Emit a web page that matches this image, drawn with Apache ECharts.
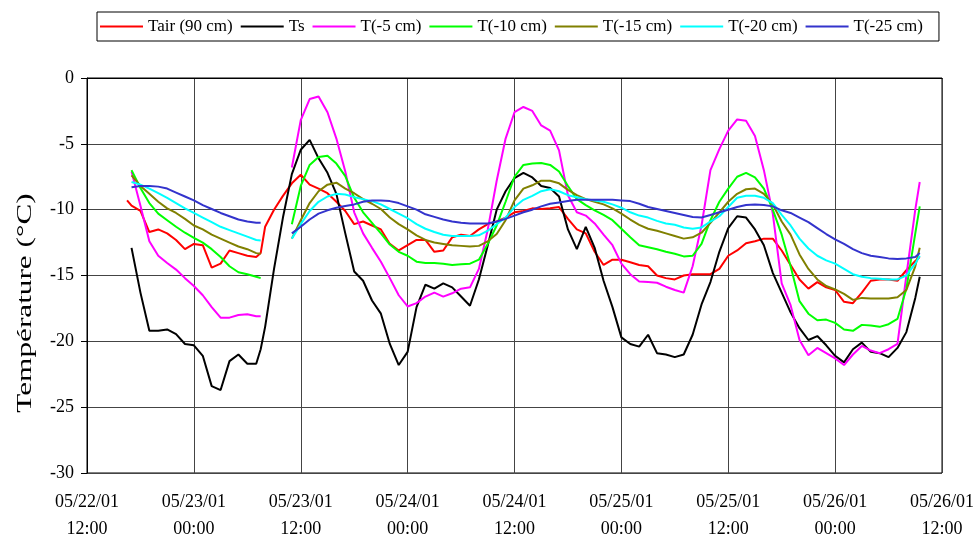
<!DOCTYPE html>
<html>
<head>
<meta charset="utf-8">
<script src="https://cdn.jsdelivr.net/npm/echarts@6/dist/echarts.min.js"></script>
<style>
html,body{margin:0;padding:0;background:#fff;overflow:hidden;width:100%;height:100%;}
#chart{position:absolute;left:0;top:0;width:973px;height:535px;}
</style>
</head>
<body>
<div id="chart"></div>
<script>
// hours since 05/22/01 12:00
var times = [4.5,5,6,7,8,9,10,11,12,13,14,15,16,17,18,19,19.5,
  20,21,22,23,24,25,26,27,28,29,30,31,32,33,34,35,36,37,38,39,40,41,42,43,44,45,46,47,
  48,49,50,51,52,53,54,55,56,57,58,59,60,61,62,63,64,65,66,67,68,69,70,71,
  72,73,74,75,76,77,78,79,80,81,82,83,84,85,86,87,88,89,90,91,92,93,93.5];

var tair = [-9.3,
  -9.7,-10.1,-11.7,-11.5,-11.8,-12.3,-13.0,-12.6,-12.7,-14.4,-14.1,-13.1,-13.3,-13.5,-13.6,
  -13.3,
  -11.3,-10.0,-8.95,-8.0,
  -7.35,-8.1,-8.4,-8.75,-9.4,-10.1,-11.1,-10.9,-11.2,-11.5,-12.6,-13.1,
  -12.7,-12.3,-12.3,-13.2,-13.1,-12.1,-11.9,-12.0,-11.5,-11.1,-10.9,-10.6,
  -10.2,-10.1,-9.9,-9.95,-9.9,-9.8,-10.7,-11.5,-11.8,-13.2,-14.2,-13.8,
  -13.8,-14.0,-14.2,-14.3,-15.0,-15.2,-15.3,-15.0,-14.9,-14.9,-14.9,-14.5,
  -13.5,-13.1,-12.55,-12.4,-12.2,-12.2,-13.1,-14.2,-15.3,-16.0,-15.5,-15.9,
  -16.1,-17.0,-17.1,-16.3,-15.4,-15.3,-15.3,-15.4,-14.6,-13.9,
  -13.6];

var ts = [null,
  -12.9,-16.3,-19.2,-19.2,-19.1,-19.45,-20.2,-20.3,-21.1,-23.4,-23.7,-21.5,-21.0,-21.7,-21.7,
  -20.6,
  -18.9,-14.5,-10.6,-7.3,
  -5.45,-4.7,-6.1,-7.2,-8.8,-11.8,-14.7,-15.4,-16.9,-17.9,-20.2,-21.8,
  -20.8,-17.4,-15.7,-16.0,-15.6,-15.9,-16.6,-17.3,-15.3,-12.7,-10.0,-8.6,
  -7.6,-7.2,-7.55,-8.2,-8.35,-9.0,-11.5,-13.0,-11.3,-12.9,-15.4,-17.4,
  -19.7,-20.2,-20.4,-19.5,-20.9,-21.0,-21.2,-21.0,-19.5,-17.2,-15.5,-13.2,
  -11.4,-10.5,-10.6,-11.5,-12.7,-14.8,-16.3,-17.8,-19.0,-19.9,-19.6,-20.3,
  -21.1,-21.6,-20.6,-20.1,-20.8,-20.9,-21.2,-20.5,-19.3,-16.7,
  -15.1];

var t5 = [null,
  -7.1,-9.7,-12.4,-13.5,-14.05,-14.55,-15.2,-15.8,-16.5,-17.4,-18.2,-18.2,-18.0,-17.95,-18.1,
  -18.1,
  null,null,null,-6.8,
  -3.2,-1.6,-1.4,-2.6,-4.6,-7.1,-10.2,-11.8,-12.9,-13.95,-15.2,-16.5,
  -17.35,-17.1,-16.6,-16.3,-16.6,-16.35,-16.0,-15.9,-14.5,-11.5,-7.8,-4.6,
  -2.6,-2.2,-2.5,-3.6,-4.0,-5.5,-8.9,-10.2,-10.45,-11.05,-11.9,-12.7,
  -14.1,-14.9,-15.45,-15.5,-15.55,-15.85,-16.1,-16.3,-14.3,-11.2,-7.0,-5.4,
  -4.0,-3.15,-3.25,-4.4,-7.0,-10.3,-15.6,-17.25,-19.9,-21.05,-20.5,-20.9,
  -21.3,-21.8,-21.0,-20.35,-20.7,-20.9,-20.6,-20.2,-15.0,-10.0,
  -7.9];

var t10 = [null,
  -7.0,-8.35,-9.5,-10.3,-10.8,-11.3,-11.75,-12.15,-12.5,-13.0,-13.6,-14.3,-14.75,-14.9,-15.1,
  -15.2,
  null,null,null,-11.1,
  -8.2,-6.6,-6.0,-5.9,-6.5,-7.45,-9.1,-10.2,-11.0,-11.8,-12.65,-13.2,
  -13.5,-13.95,-14.05,-14.05,-14.1,-14.2,-14.15,-14.1,-13.8,-12.6,-11.2,-9.4,
  -7.5,-6.6,-6.5,-6.45,-6.6,-7.1,-8.2,-9.2,-9.65,-10.05,-10.4,-10.8,
  -11.45,-12.1,-12.7,-12.85,-13.0,-13.2,-13.35,-13.55,-13.5,-12.6,-10.8,-9.4,
  -8.4,-7.5,-7.2,-7.55,-8.4,-10.0,-11.9,-14.3,-16.95,-17.9,-18.4,-18.35,
  -18.6,-19.1,-19.2,-18.75,-18.8,-18.9,-18.7,-18.3,-16.0,-11.8,
  -9.75];

var t15 = [null,
  -7.4,-8.2,-8.8,-9.4,-9.9,-10.25,-10.7,-11.2,-11.5,-11.9,-12.2,-12.5,-12.8,-13.0,-13.3,
  -13.35,
  null,null,null,-12.2,
  -10.8,-9.5,-8.6,-8.1,-7.95,-8.4,-8.75,-9.2,-9.55,-9.95,-10.6,-11.1,
  -11.5,-11.95,-12.3,-12.5,-12.6,-12.7,-12.75,-12.8,-12.75,-12.4,-11.85,-10.8,
  -9.3,-8.4,-8.15,-7.8,-7.8,-8.0,-8.5,-8.9,-9.2,-9.4,-9.6,-9.9,
  -10.3,-10.75,-11.15,-11.45,-11.6,-11.8,-12.0,-12.2,-12.1,-11.75,-11.0,-10.2,
  -9.4,-8.8,-8.45,-8.4,-8.8,-9.6,-10.9,-11.9,-13.4,-14.5,-15.3,-15.8,
  -16.05,-16.4,-16.85,-16.7,-16.75,-16.75,-16.75,-16.65,-16.1,-14.3,
  -12.9];

var t20 = [null,
  -7.9,-8.1,-8.4,-8.75,-9.1,-9.5,-9.9,-10.25,-10.6,-10.95,-11.3,-11.55,-11.8,-12.05,-12.3,
  -12.35,
  null,null,null,-12.2,
  -11.1,-10.1,-9.4,-9.0,-8.8,-8.85,-9.05,-9.2,-9.35,-9.6,-9.95,-10.3,
  -10.65,-11.1,-11.45,-11.7,-11.9,-12.0,-12.0,-12.0,-11.95,-11.6,-11.1,-10.6,
  -9.8,-9.25,-8.95,-8.6,-8.45,-8.6,-8.9,-9.05,-9.2,-9.3,-9.4,-9.6,
  -9.85,-10.2,-10.45,-10.6,-10.85,-11.05,-11.15,-11.35,-11.45,-11.35,-10.9,-10.5,
  -9.8,-9.1,-8.95,-8.95,-9.1,-9.5,-10.4,-11.2,-12.2,-12.95,-13.5,-13.85,
  -14.1,-14.5,-14.9,-15.1,-15.2,-15.25,-15.3,-15.3,-15.0,-14.1,
  -13.5];

var t25 = [null,
  -8.3,-8.2,-8.2,-8.25,-8.4,-8.7,-9.0,-9.3,-9.65,-9.95,-10.25,-10.5,-10.75,-10.9,-11.0,
  -11.0,
  null,null,null,-11.8,
  -11.3,-10.75,-10.3,-10.05,-9.85,-9.72,-9.6,-9.4,-9.3,-9.3,-9.35,-9.5,
  -9.75,-10.0,-10.35,-10.55,-10.75,-10.9,-11.0,-11.05,-11.05,-11.05,-10.9,-10.7,
  -10.45,-10.2,-10.0,-9.75,-9.55,-9.45,-9.35,-9.25,-9.25,-9.25,-9.25,-9.25,
  -9.3,-9.35,-9.55,-9.8,-9.95,-10.1,-10.25,-10.4,-10.55,-10.6,-10.4,-10.2,
  -10.0,-9.8,-9.65,-9.6,-9.65,-9.75,-10.05,-10.25,-10.6,-10.95,-11.4,-11.85,
  -12.25,-12.6,-13.0,-13.3,-13.5,-13.6,-13.7,-13.75,-13.7,-13.6,
  -13.3];

var seriesNames = ['Tair (90 cm)','Ts','T(-5 cm)','T(-10 cm)','T(-15 cm)','T(-20 cm)','T(-25 cm)'];
var seriesColors = ['#ff0000','#000000','#ff00ff','#00ff00','#808000','#00ffff','#3333cc'];
var seriesValues = [tair, ts, t5, t10, t15, t20, t25];

var xTickDates = ['05/22/01','05/23/01','05/23/01','05/24/01','05/24/01','05/25/01','05/25/01','05/26/01','05/26/01'];
var xTickTimes = ['12:00','00:00','12:00','00:00','12:00','00:00','12:00','00:00','12:00'];

var FONT = '"Liberation Serif", "Times New Roman", serif';

function pairs(vals){
  return times.map(function(t,i){ return [t, vals[i] === null ? '-' : vals[i]]; });
}

var el = document.getElementById('chart');
var chart = echarts.init(el, null, {renderer:'canvas', width: 973, height: 535});
chart.setOption({
  animation: false,
  backgroundColor: '#ffffff',
  textStyle: {fontFamily: FONT, color:'#000'},
  legend: {
    left: 97, top: 12,
    padding: [5, 16, 5, 3],
    icon: 'rect',
    itemWidth: 43, itemHeight: 2, itemGap: 8,
    borderColor: '#000', borderWidth: 1,
    textStyle: {fontFamily: FONT, fontSize: 17, color:'#000', lineHeight: 19},
    data: seriesNames
  },
  grid: {left: 87, right: 31, top: 78, bottom: 62, show: true, borderColor:'#000', borderWidth: 1,
         containLabel: false, outerBoundsMode: 'none'},
  xAxis: {
    type: 'value', min: 0, max: 96, interval: 12,
    axisLine: {show: true, lineStyle: {color:'#000', width: 1}},
    axisTick: {show: false},
    splitLine: {show: true, lineStyle: {color:'#444', width: 1}},
    axisLabel: {
      margin: 16, fontFamily: FONT, fontSize: 18, color: '#000', lineHeight: 27,
      formatter: function(v){ var i = Math.round(v/12); return xTickDates[i] + '\n' + xTickTimes[i]; }
    }
  },
  yAxis: {
    type: 'value', min: -30, max: 0, interval: 5,
    axisLine: {show: true, lineStyle: {color:'#000', width: 1}},
    axisTick: {show: true, inside: false, length: 6, lineStyle: {color:'#000'}},
    splitLine: {show: true, lineStyle: {color:'#444', width: 1}},
    axisLabel: {margin: 13, fontFamily: FONT, fontSize: 18, color:'#000'}
  },
  graphic: [{
    type: 'text', x: 25, y: 303, rotation: Math.PI/2, scaleX: 1.42,
    style: {text: 'Température (°C)', font: '22px "Liberation Serif", serif', fill:'#000', align:'center', verticalAlign:'middle'}
  }],
  series: seriesNames.map(function(n, k){
    return {
      name: n, type: 'line', data: pairs(seriesValues[k]),
      symbol: 'none', showSymbol: false, connectNulls: false, smooth: false,
      color: seriesColors[k],
      itemStyle: {color: seriesColors[k]},
      lineStyle: {color: seriesColors[k], width: 2},
      emphasis: {disabled: true}
    };
  })
});
</script>
</body>
</html>
